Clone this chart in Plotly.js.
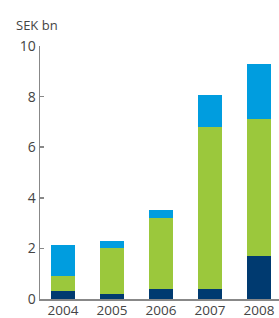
<!DOCTYPE html>
<html><head><meta charset="utf-8">
<script src="https://cdn.plot.ly/plotly-3.0.1.min.js"></script>
<style>html,body{margin:0;padding:0;background:#fff;}#chart{width:279px;height:318px;}</style>
</head><body><div id="chart"></div>
<script>
const years = ['2004','2005','2006','2007','2008'];
const seriesDark = [0.3, 0.2, 0.4, 0.4, 1.7];
const seriesGreen = [0.6, 1.8, 2.8, 6.4, 5.4];
const seriesBlue = [1.25, 0.3, 0.3, 1.25, 2.2];
const yTicks = [0, 2, 4, 6, 8, 10];

const mk = (y, color) => ({type:'bar', x: years, y: y, marker:{color: color, line:{width:0}}, width:0.49, hoverinfo:'skip'});
const data = [mk(seriesDark,'#003a70'), mk(seriesGreen,'#9bc83c'), mk(seriesBlue,'#009ddf')];

const layout = {
  width: 279, height: 318,
  margin: {l:40, r:0, t:46, b:19},
  barmode: 'stack',
  showlegend: false,
  paper_bgcolor: '#fff', plot_bgcolor: '#fff',
  font: {family: 'Open Sans, sans-serif', size: 14, color: '#444'},
  xaxis: {type:'category', range:[-0.47, 4.41], showline:true, linecolor:'#888', linewidth:1.5,
          ticks:'', showgrid:false, zeroline:false, tickfont:{size:13.5, color:'#444'}, ticklabelstandoff:-2},
  yaxis: {range:[0,10], tickvals: yTicks, ticktext: yTicks.map(String), showline:true, linecolor:'#888', linewidth:1.5,
          ticks:'inside', ticklen:4, tickcolor:'#888', tickwidth:1.5, showgrid:false, zeroline:false,
          tickfont:{size:14, color:'#444'}},
  annotations: [{text:'SEK bn', xref:'paper', yref:'paper', x:-0.108, y:1.083, xanchor:'left', yanchor:'middle',
                 showarrow:false, font:{size:13, color:'#444'}}]
};
Plotly.newPlot('chart', data, layout, {displayModeBar:false, staticPlot:true});
</script></body></html>
